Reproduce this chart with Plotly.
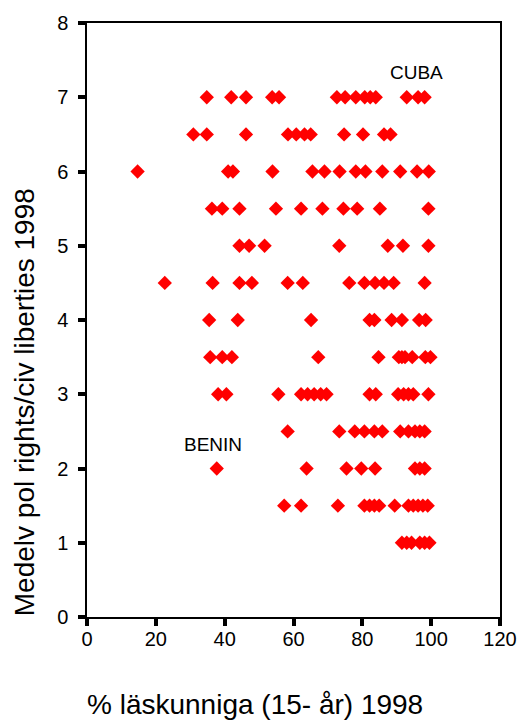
import plotly.graph_objects as go

# Literacy (% läskunniga, 15+ years, 1998) for countries at each rights/liberties level
lit_7_0 = [34.8, 41.9, 46.2, 53.8, 55.8, 72.6, 75.0, 78.1, 80.7, 82.3, 83.9, 92.9, 96.2, 98.1]
lit_6_5 = [30.9, 34.8, 46.2, 58.4, 60.8, 63.2, 65.0, 74.7, 80.2, 86.3, 88.2]
lit_6_0 = [14.7, 41.0, 42.4, 53.9, 65.5, 69.0, 73.4, 78.1, 80.9, 85.8, 91.0, 95.9, 99.3]
lit_5_5 = [36.3, 39.3, 44.3, 54.9, 62.2, 68.4, 74.5, 78.5, 85.1, 99.2]
lit_5_0 = [44.3, 47.1, 51.6, 73.3, 87.4, 91.8, 99.2]
lit_4_5 = [22.6, 36.5, 44.3, 47.9, 58.3, 62.7, 76.2, 80.6, 83.7, 86.3, 89.1, 98.1]
lit_4_0 = [35.5, 43.8, 65.1, 82.1, 83.5, 88.5, 91.5, 96.5, 98.4]
lit_3_5 = [35.8, 39.3, 42.1, 67.2, 84.7, 90.6, 91.5, 92.4, 94.5, 98.3, 99.8]
lit_3_0 = [38.1, 40.5, 55.6, 62.2, 64.1, 66.0, 67.9, 69.6, 82.1, 83.9, 90.4, 92.0, 93.4, 94.8, 99.2]
lit_2_5 = [58.3, 73.3, 77.8, 80.6, 83.5, 85.8, 91.0, 93.4, 95.3, 96.7, 98.1]
lit_2_0 = [37.7, 63.8, 75.4, 79.7, 83.7, 95.3, 96.7, 98.1]
lit_1_5 = [57.3, 62.2, 72.9, 80.6, 82.1, 83.5, 84.9, 89.4, 93.4, 94.8, 96.2, 97.6, 99.0]
lit_1_0 = [91.5, 92.9, 94.3, 96.7, 98.1, 99.5]

levels = [7.0, 6.5, 6.0, 5.5, 5.0, 4.5, 4.0, 3.5, 3.0, 2.5, 2.0, 1.5, 1.0]
groups = [lit_7_0, lit_6_5, lit_6_0, lit_5_5, lit_5_0, lit_4_5, lit_4_0,
          lit_3_5, lit_3_0, lit_2_5, lit_2_0, lit_1_5, lit_1_0]

labels = ["CUBA", "BENIN"]
label_x = [95.7, 36.7]
label_y = [7.33, 2.32]

x_ticks = [0, 20, 40, 60, 80, 100, 120]
y_ticks = [0, 1, 2, 3, 4, 5, 6, 7, 8]

x_title = "% läskunniga (15- år) 1998"
y_title = "Medelv pol rights/civ liberties 1998"

xs, ys = [], []
for lv, g in zip(levels, groups):
    xs.extend(g)
    ys.extend([lv] * len(g))

FONT = "Liberation Sans, Arial, sans-serif"

fig = go.Figure()
fig.add_trace(go.Scatter(
    x=xs, y=ys, mode="markers",
    marker=dict(symbol="diamond", size=11, color="#ff0000", line=dict(width=0)),
    hoverinfo="x+y", showlegend=False,
))

for t, lx, ly in zip(labels, label_x, label_y):
    fig.add_annotation(x=lx, y=ly, xref="x", yref="y", text=t, showarrow=False,
                       font=dict(family=FONT, size=19, color="black"),
                       xanchor="center", yanchor="middle")

fig.add_annotation(x=-0.005, y=-0.148, xref="paper", yref="paper", text=x_title,
                   showarrow=False, xanchor="left", yanchor="middle",
                   font=dict(family=FONT, size=28, color="black"))
fig.add_annotation(x=-0.151, y=0.361, xref="paper", yref="paper", text=y_title,
                   showarrow=False, textangle=-90, xanchor="center", yanchor="middle",
                   font=dict(family=FONT, size=28, color="black"))

axis_common = dict(
    showgrid=False, zeroline=False, showline=True, linecolor="black", linewidth=1.5,
    mirror=True, ticks="outside", ticklen=7, tickwidth=4, tickcolor="black",
    tickfont=dict(family=FONT, size=20, color="black"),
)

fig.update_xaxes(range=[0, 120], tickvals=x_ticks, ticktext=[str(v) for v in x_ticks],
                 ticklabelstandoff=-4, **axis_common)
fig.update_yaxes(range=[0, 8], tickvals=y_ticks, ticktext=[str(v) for v in y_ticks],
                 ticklabelstandoff=6, **axis_common)

fig.update_layout(
    width=529, height=722,
    margin=dict(l=87, r=19, t=21, b=105, pad=0),
    paper_bgcolor="white", plot_bgcolor="white",
    font=dict(family=FONT, color="black"),
)

fig.write_html("out.html", config={"displayModeBar": False},
               post_script="document.body.style.margin='0';")
